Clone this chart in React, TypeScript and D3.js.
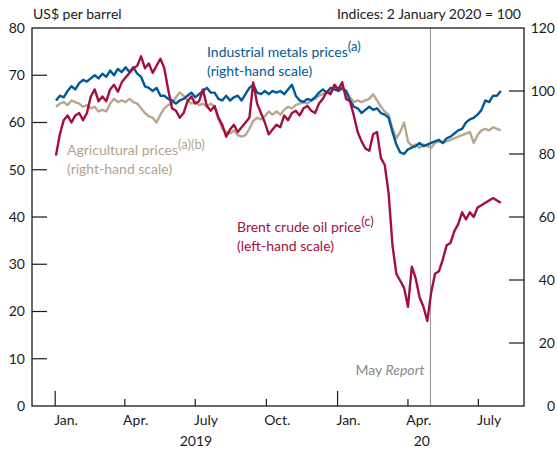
import React from 'react';
import * as d3 from 'd3';

const dates = [
  "2019-01-02","2019-01-07","2019-01-12","2019-01-17","2019-01-22","2019-01-27","2019-02-01","2019-02-06","2019-02-11","2019-02-16",
  "2019-02-21","2019-02-26","2019-03-03","2019-03-08","2019-03-13","2019-03-18","2019-03-23","2019-03-28","2019-04-02","2019-04-07",
  "2019-04-12","2019-04-17","2019-04-22","2019-04-27","2019-05-02","2019-05-07","2019-05-12","2019-05-17","2019-05-22","2019-05-27",
  "2019-06-01","2019-06-06","2019-06-11","2019-06-16","2019-06-21","2019-06-26","2019-07-01","2019-07-06","2019-07-11","2019-07-16",
  "2019-07-21","2019-07-26","2019-07-31","2019-08-05","2019-08-10","2019-08-15","2019-08-20","2019-08-25","2019-08-30","2019-09-04",
  "2019-09-09","2019-09-14","2019-09-19","2019-09-24","2019-09-29","2019-10-04","2019-10-09","2019-10-14","2019-10-19","2019-10-24",
  "2019-10-29","2019-11-03","2019-11-08","2019-11-13","2019-11-18","2019-11-23","2019-11-28","2019-12-03","2019-12-08","2019-12-13",
  "2019-12-18","2019-12-23","2019-12-28","2020-01-02","2020-01-07","2020-01-12","2020-01-17","2020-01-22","2020-01-27","2020-02-01",
  "2020-02-06","2020-02-11","2020-02-16","2020-02-21","2020-02-26","2020-03-02","2020-03-07","2020-03-12","2020-03-17","2020-03-22",
  "2020-03-27","2020-04-01","2020-04-06","2020-04-11","2020-04-16","2020-04-21","2020-04-26","2020-05-01","2020-05-06","2020-05-11",
  "2020-05-16","2020-05-21","2020-05-26","2020-05-31","2020-06-05","2020-06-10","2020-06-15","2020-06-20","2020-06-25","2020-06-30",
  "2020-07-05","2020-07-10","2020-07-15","2020-07-20","2020-07-25","2020-07-30"
];

// Brent crude oil price, US$ per barrel (left-hand scale)
const brent = [
  53, 57.5, 60.5, 61.5, 60, 61.5, 62, 60.5, 62, 65.5,
  67, 64.5, 65.5, 64.5, 67, 68, 66.5, 68.5, 69.5, 70.5,
  71.5, 72, 74, 71.5, 72.5, 70.5, 72, 73.5, 71.5, 67,
  63, 62.5, 61, 62, 64.5, 65.5, 64, 64.5, 67, 63.5,
  62.5, 63.5, 61, 59.5, 57, 58.5, 59.5, 58, 59, 60,
  61, 68.5, 64, 62, 60, 57.5, 58.5, 59.5, 59, 61.5,
  60.5, 62, 62.5, 61.5, 63, 63.5, 62.5, 62, 64, 65,
  66.5, 66, 68, 67, 68.5, 65, 64.5, 61.5, 58, 56,
  54.5, 54, 57.5, 58, 52.5, 51, 45, 34, 28, 26.5,
  25, 21, 29.5, 27, 23, 21, 18, 24, 28, 28.5,
  31, 34, 34.5, 37, 38.5, 41, 39.5, 41, 40, 42,
  42.5, 43, 43.5, 44, 43.5, 43
];

// Industrial metals prices, index (right-hand scale)
const metals = [
  97, 98.5, 98, 100, 101.5, 100.5, 102.5, 103.5, 103, 104,
  105, 104, 105.5, 104.5, 106.5, 105, 107, 106, 107.5, 106,
  107.5, 105.5, 104.5, 101.5, 101, 100, 101, 98.5, 98.5, 97.5,
  97, 96, 97, 97.5, 98.5, 99.5, 98, 99, 100, 101,
  99.5, 99.5, 97.5, 97, 98.5, 97, 98, 98.5, 97, 99,
  101, 102, 99.5, 99, 100, 99, 100, 99.5, 100, 99,
  100.5, 102, 98.5, 97, 96.5, 97.5, 97, 98, 99.5, 100.5,
  99.5, 101, 100.5, 100, 101, 100, 97, 95, 94.5, 93,
  94, 95, 94, 94.5, 93, 92.5, 91.5, 87, 83, 80.5,
  80, 81.5, 82, 82.5, 83.5, 82.5, 83, 83.5, 84, 84.5,
  83.5, 85, 85.5, 86.5, 87.5, 88, 90, 91, 91.5, 92.5,
  94, 97, 96.5, 98.5, 98.5, 100
];

// Agricultural prices, index (right-hand scale)
const agri = [
  95, 96, 96.5, 95.5, 97, 96.5, 96, 95, 95.5, 94.5,
  95, 93.5, 94, 93.5, 96, 97.5, 96.5, 97, 96.5, 97.5,
  96.5, 96, 94.5, 93, 92, 91.5, 90, 92.5, 94.5, 95.5,
  96, 98, 99.5, 98.5, 97, 96, 96.5, 95.5, 96, 95,
  96, 95, 91, 88, 87, 86.5, 87.5, 86, 85.5, 86,
  88, 90.5, 91.5, 91, 92, 93.5, 92.5, 93.5, 92.5, 94,
  95, 94.5, 95.5, 96, 96.5, 96, 97, 97.5, 98.5, 99,
  99.5, 100, 100.5, 101, 100.5, 100, 98, 96.5, 97, 96.5,
  97, 97.5, 99, 97, 95, 93.5, 92.5, 88, 85, 87,
  90, 84, 82.5, 83, 82, 83, 82.5, 82, 83.5, 84,
  83.5, 84, 84.5, 85, 85.5, 86, 86.5, 87, 83.5, 86,
  87.5, 88, 87.5, 88.5, 88, 87.5
];

const leftTicks = [0, 10, 20, 30, 40, 50, 60, 70, 80];
const rightTicks = [0, 20, 40, 60, 80, 100, 120];
const monthTicks = ["2019-01-01", "2019-04-01", "2019-07-01", "2019-10-01", "2020-01-01", "2020-04-01", "2020-07-01"];
const monthLabelDates = ["2019-01-15", "2019-04-15", "2019-07-15", "2019-10-15", "2020-01-15", "2020-04-15", "2020-07-15"];
const monthLabels = ["Jan.", "Apr.", "July", "Oct.", "Jan.", "Apr.", "July"];
const yearLabelDates = ["2019-07-02", "2020-04-19"];
const yearLabels = ["2019", "20"];
const reportDate = "2020-04-30";

const FONT = "Lato, 'Noto Sans', sans-serif";
const C_BRENT = "#A3103F";
const C_METALS = "#005A97";
const C_AGRI = "#B8A78F";
const C_AGRI_TXT = "#B3A38C";

export default function App() {
  const W = 557, H = 450;
  const L = 32, R = 524, T = 28, B = 406;
  const parse = d3.utcParse("%Y-%m-%d");
  const x = d3.scaleUtc().domain([parse("2018-12-02")!, parse("2020-08-29")!]).range([L, R]);
  const yL = d3.scaleLinear().domain([0, 80]).range([B, T]);
  const yR = d3.scaleLinear().domain([0, 120]).range([B, T]);
  const ds = dates.map(d => parse(d)!);

  const lineL = d3.line<number>().x((_, i) => x(ds[i])).y(v => yL(v)).curve(d3.curveLinear);
  const lineR = d3.line<number>().x((_, i) => x(ds[i])).y(v => yR(v)).curve(d3.curveLinear);

  const xr = x(parse(reportDate)!);
  const fs = 14;
  const sup = 13;

  return (
    <svg width={W} height={H} style={{ position: 'absolute', left: 0, top: 0, background: '#fff' }}
      fontFamily={FONT}>
      <rect x={0} y={0} width={W} height={H} fill="#fff" />
      {/* report line */}
      <line x1={xr} x2={xr} y1={T} y2={B} stroke="#8f8f8f" strokeWidth={1} />
      <text x={xr - 6} y={375} textAnchor="end" fontSize={fs} fill="#8a8a8a">
        May <tspan fontStyle="italic">Report</tspan>
      </text>

      {/* series */}
      <path d={lineR(agri) || ''} fill="none" stroke={C_AGRI} strokeWidth={2.4} strokeLinejoin="round" />
      <path d={lineR(metals) || ''} fill="none" stroke={C_METALS} strokeWidth={2.4} strokeLinejoin="round" />
      <path d={lineL(brent) || ''} fill="none" stroke={C_BRENT} strokeWidth={2.4} strokeLinejoin="round" />

      {/* frame */}
      <rect x={L} y={T} width={R - L} height={B - T} fill="none" stroke="#1a1a1a" strokeWidth={1.3} />

      {/* left ticks */}
      {leftTicks.map(t => (
        <g key={'l' + t}>
          {t > 0 && t < 80 && <line x1={L} x2={L + 15} y1={yL(t)} y2={yL(t)} stroke="#1a1a1a" strokeWidth={1.2} />}
          <text x={25} y={yL(t)} dy="0.35em" textAnchor="end" fontSize={fs} fill="#1a1a1a">{t}</text>
        </g>
      ))}
      {/* right ticks */}
      {rightTicks.map(t => (
        <g key={'r' + t}>
          {t > 0 && t < 120 && <line x1={R - 15} x2={R} y1={yR(t)} y2={yR(t)} stroke="#1a1a1a" strokeWidth={1.2} />}
          <text x={555} y={yR(t)} dy="0.35em" textAnchor="end" fontSize={fs} fill="#1a1a1a">{t}</text>
        </g>
      ))}
      {/* bottom ticks */}
      {monthTicks.map(m => {
        const d = parse(m)!;
        const isJan = d.getUTCMonth() === 0;
        const xx = x(d);
        return <line key={m} x1={xx} x2={xx} y1={B} y2={B - (isJan ? 15 : 7)} stroke="#1a1a1a" strokeWidth={1.2} />;
      })}
      {monthLabels.map((lab, i) => (
        <text key={'ml' + i} x={x(parse(monthLabelDates[i])!)} y={425} textAnchor="middle" fontSize={fs} fill="#1a1a1a">{lab}</text>
      ))}
      {yearLabels.map((lab, i) => (
        <text key={'yl' + i} x={x(parse(yearLabelDates[i])!)} y={446} textAnchor="middle" fontSize={fs} fill="#1a1a1a">{lab}</text>
      ))}

      {/* axis titles */}
      <text x={33} y={19} fontSize={fs} fill="#1a1a1a">US$ per barrel</text>
      <text x={521} y={19} textAnchor="end" fontSize={fs} fill="#1a1a1a">Indices: 2 January 2020 = 100</text>

      {/* annotations */}
      <text x={207} y={57} fontSize={fs} fill={C_METALS}>
        Industrial metals prices<tspan dy={-6} fontSize={sup}>(a)</tspan>
      </text>
      <text x={207} y={76} fontSize={fs} fill={C_METALS}>(right-hand scale)</text>

      <text x={67} y={155} fontSize={fs} fill={C_AGRI_TXT}>
        Agricultural prices<tspan dy={-6} fontSize={sup}>(a)(b)</tspan>
      </text>
      <text x={67} y={174} fontSize={fs} fill={C_AGRI_TXT}>(right-hand scale)</text>

      <text x={237} y={232} fontSize={fs} fill={C_BRENT}>
        Brent crude oil price<tspan dy={-6} fontSize={sup}>(c)</tspan>
      </text>
      <text x={237} y={251} fontSize={fs} fill={C_BRENT}>(left-hand scale)</text>
    </svg>
  );
}
